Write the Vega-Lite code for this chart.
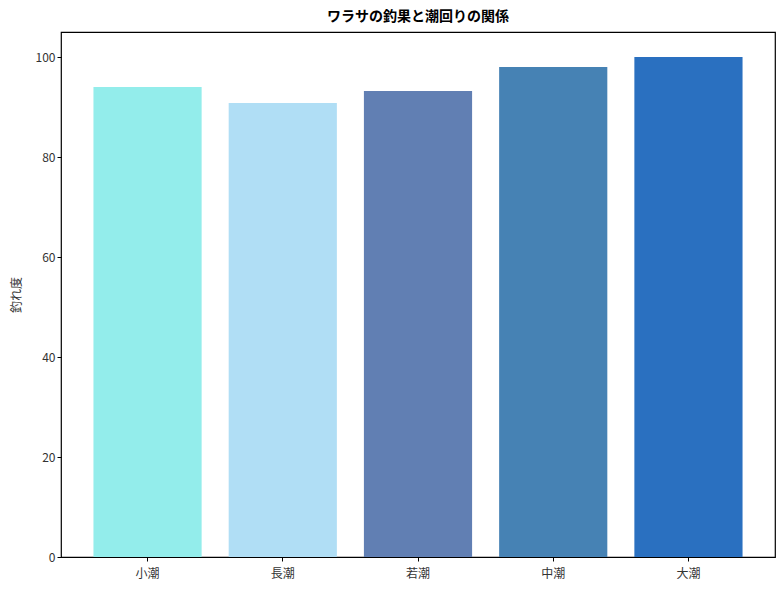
{
  "$schema": "https://vega.github.io/schema/vega-lite/v6.json",
  "width": 714,
  "height": 525,
  "autosize": {"type": "none"},
  "padding": {"left": 61, "top": 32, "right": 9, "bottom": 33},
  "background": "white",
  "config": {
    "font": "Noto Sans CJK JP",
    "view": {"stroke": "black", "strokeWidth": 1.2},
    "axis": {"grid": false, "domain": false, "tickColor": "black", "tickSize": 4, "labelColor": "#333333", "labelFontSize": 12, "titleFontWeight": "normal", "titleFontSize": 12, "titleColor": "#333333"}
  },
  "title": {"text": "ワラサの釣果と潮回りの関係", "fontSize": 14, "fontWeight": "bold", "color": "black", "offset": 8},
  "data": {
    "values": [
      {"tide": "小潮", "score": 94.0, "color": "#93EDEB"},
      {"tide": "長潮", "score": 90.8, "color": "#B0DEF5"},
      {"tide": "若潮", "score": 93.2, "color": "#617FB3"},
      {"tide": "中潮", "score": 98.0, "color": "#4682B4"},
      {"tide": "大潮", "score": 100.0, "color": "#2A70C0"}
    ]
  },
  "mark": {"type": "bar"},
  "encoding": {
    "x": {
      "field": "tide", "type": "nominal", "sort": null, "title": null,
      "scale": {"paddingInner": 0.2, "paddingOuter": 0.24},
      "axis": {"labelAngle": 0, "labelPadding": 7}
    },
    "y": {
      "field": "score", "type": "quantitative", "title": "釣れ度",
      "scale": {"domain": [0, 105], "nice": false},
      "axis": {"values": [0, 20, 40, 60, 80, 100], "titlePadding": 12}
    },
    "color": {"field": "color", "type": "nominal", "scale": null, "legend": null}
  }
}
